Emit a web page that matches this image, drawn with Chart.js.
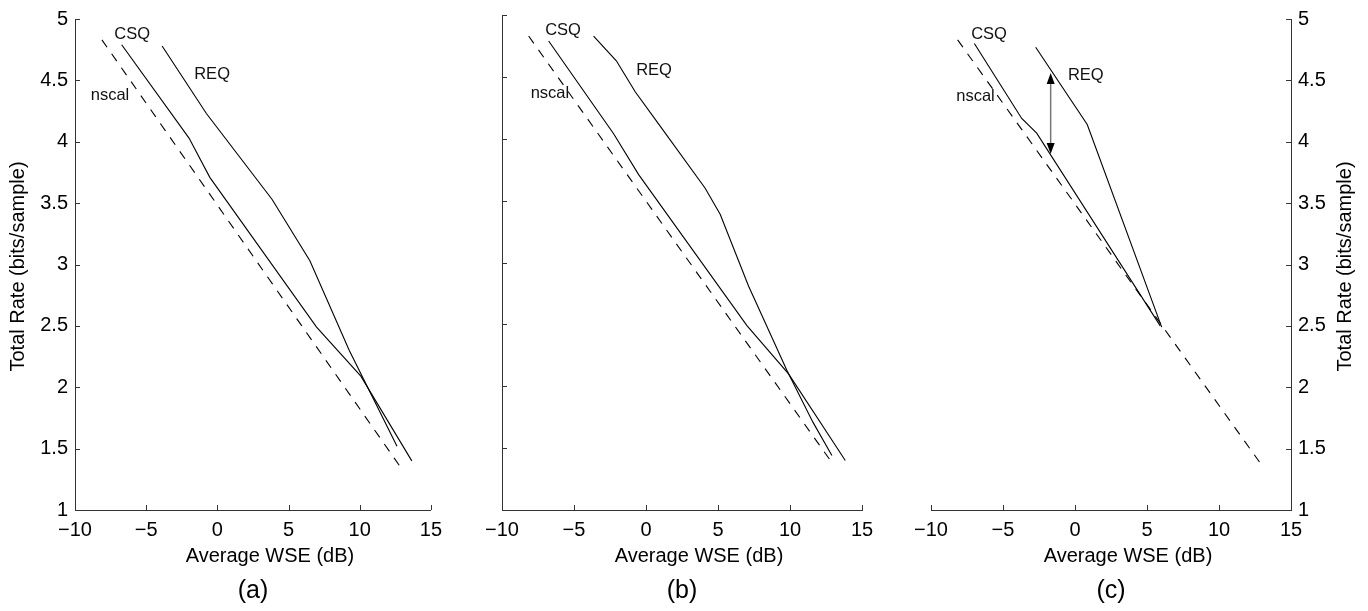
<!DOCTYPE html>
<html><head><meta charset="utf-8">
<script src="https://cdn.jsdelivr.net/npm/chart.js@4/dist/chart.umd.min.js"></script>
<style>
html,body{margin:0;padding:0;background:#fff;width:1368px;height:611px;overflow:hidden;}
canvas{position:absolute;top:0;}
</style></head><body>
<canvas id="ca" width="450" height="611" style="left:0px"></canvas>
<canvas id="cb" width="440" height="611" style="left:450px"></canvas>
<canvas id="cc" width="478" height="611" style="left:890px"></canvas>
<script>
// ---- tick labels ----
const xTickLabels = ['\u221210', '\u22125', '0', '5', '10', '15'];
const yTickLabels = ['1', '1.5', '2', '2.5', '3', '3.5', '4', '4.5', '5'];
const xTitle = 'Average WSE (dB)';
const yTitle = 'Total Rate (bits/sample)';

// ---- panel (a) ----
const nscalA_x = [-8.11, 12.8];
const nscalA_y = [4.83, 1.36];
const csqA_x = [-6.72, -1.99, -0.53, 6.97, 10.08, 13.66];
const csqA_y = [4.79, 4.03, 3.71, 2.49, 2.09, 1.40];
const reqA_x = [-3.88, -0.77, 3.85, 6.50, 9.27, 12.62];
const reqA_y = [4.78, 4.23, 3.53, 3.03, 2.30, 1.52];

// ---- panel (b) ----
const nscalB_x = [-8.15, 12.99];
const nscalB_y = [4.83, 1.37];
const csqB_x = [-6.76, -2.25, -0.51, 7.01, 9.90, 13.84];
const csqB_y = [4.79, 4.04, 3.71, 2.49, 2.10, 1.40];
const reqB_x = [-3.64, -2.06, -0.75, 0.87, 4.11, 5.15, 7.12, 9.78, 11.59, 12.91];
const reqB_y = [4.83, 4.63, 4.38, 4.12, 3.60, 3.39, 2.81, 2.13, 1.71, 1.44];

// ---- panel (c) ----
const nscalC_x = [-8.15, 13.0];
const nscalC_y = [4.83, 1.36];
const csqC_x = [-6.99, -3.70, -2.66, 5.92];
const csqC_y = [4.80, 4.19, 4.07, 2.50];
const reqC_x = [-2.73, 0.85, 6.02];
const reqC_y = [4.77, 4.14, 2.49];
const arrowC_x = -1.69;
const arrowC_y = [4.56, 3.90];

// ---- curve labels (text, x, y) ----
const labelText = ['CSQ', 'REQ', 'nscal'];
const labelsA_x = [-5.98, -0.37, -7.54];
const labelsA_y = [4.875, 4.55, 4.375];
const labelsB_x = [-5.76, 0.56, -6.67];
const labelsB_y = [4.875, 4.55, 4.37];
const labelsC_x = [-5.97, 0.75, -6.91];
const labelsC_y = [4.875, 4.54, 4.37];

const FONT = "'Liberation Sans', Arial, Helvetica, sans-serif";
const AXIS = '#333';

function pts(xs, ys) { return xs.map((x, i) => ({x: x, y: ys[i]})); }

const decor = {
  id: 'decor',
  afterDraw(chart, args, o) {
    const ctx = chart.ctx, xs = chart.scales.x, ys = chart.scales.y;
    const a = chart.chartArea;
    ctx.save();
    // inward tick marks
    ctx.strokeStyle = AXIS; ctx.lineWidth = 1;
    ctx.beginPath();
    xs.ticks.forEach(t => {
      const px = Math.round(xs.getPixelForValue(t.value)) + 0.5;
      ctx.moveTo(px, a.bottom); ctx.lineTo(px, a.bottom - 5);
    });
    ys.ticks.forEach(t => {
      const py = Math.round(ys.getPixelForValue(t.value)) + 0.5;
      if (o.right) { ctx.moveTo(a.right, py); ctx.lineTo(a.right - 5, py); }
      else { ctx.moveTo(a.left, py); ctx.lineTo(a.left + 5, py); }
    });
    ctx.stroke();
    // curve labels
    ctx.fillStyle = '#111';
    ctx.font = '16.5px ' + FONT;
    ctx.textAlign = 'center'; ctx.textBaseline = 'middle';
    labelText.forEach((t, i) => {
      ctx.fillText(t, xs.getPixelForValue(o.lx[i]), ys.getPixelForValue(o.ly[i]));
    });
    // arrow
    if (o.arrow) {
      const ax = xs.getPixelForValue(o.arrow.x);
      const y1 = ys.getPixelForValue(o.arrow.y[0]);
      const y2 = ys.getPixelForValue(o.arrow.y[1]);
      ctx.strokeStyle = '#777'; ctx.lineWidth = 1.5;
      ctx.beginPath(); ctx.moveTo(ax, y1 + 8); ctx.lineTo(ax, y2 - 8); ctx.stroke();
      ctx.fillStyle = '#000';
      ctx.beginPath(); ctx.moveTo(ax, y1); ctx.lineTo(ax - 4, y1 + 11); ctx.lineTo(ax + 4, y1 + 11); ctx.closePath(); ctx.fill();
      ctx.beginPath(); ctx.moveTo(ax, y2); ctx.lineTo(ax - 4, y2 - 11); ctx.lineTo(ax + 4, y2 - 11); ctx.closePath(); ctx.fill();
    }
    // titles
    ctx.fillStyle = '#000';
    ctx.font = '20px ' + FONT;
    ctx.textAlign = 'center'; ctx.textBaseline = 'middle';
    ctx.fillText(xTitle, (a.left + a.right) / 2 + 17, a.bottom + 46);
    ctx.font = '25px ' + FONT;
    ctx.fillText(o.panel, (a.left + a.right) / 2, a.bottom + 81);
    if (o.ytitleX !== undefined) {
      ctx.font = '20px ' + FONT;
      ctx.translate(o.ytitleX, (a.top + a.bottom) / 2 + 2);
      ctx.rotate(-Math.PI / 2);
      ctx.fillText(yTitle, 0, 0);
    }
    ctx.restore();
  }
};

function makeChart(id, d, cfg) {
  new Chart(document.getElementById(id), {
    type: 'scatter',
    data: {
      datasets: [
        {data: pts(d.nx, d.ny), showLine: true, borderColor: '#000', borderWidth: 1.1, borderDash: [9, 8], pointRadius: 0, fill: false},
        {data: pts(d.cx, d.cy), showLine: true, borderColor: '#000', borderWidth: 1.1, pointRadius: 0, fill: false},
        {data: pts(d.rx, d.ry), showLine: true, borderColor: '#000', borderWidth: 1.1, pointRadius: 0, fill: false}
      ]
    },
    options: {
      responsive: false, animation: false, devicePixelRatio: 1,
      layout: {padding: {top: 15, right: cfg.padRight, left: cfg.padLeft, bottom: 0}},
      plugins: {legend: {display: false}, tooltip: {enabled: false},
        decor: {lx: d.lx, ly: d.ly, arrow: d.arrow, panel: cfg.panel, right: cfg.yPos === 'right', ytitleX: cfg.ytitleX}},
      scales: {
        x: {
          type: 'linear', position: 'bottom', min: -10, max: 15,
          ticks: {stepSize: 5, autoSkip: false, maxRotation: 0, padding: 8, color: '#000',
                  font: {family: FONT, size: 20}, callback: (v, i) => xTickLabels[i]},
          grid: {display: false, drawTicks: false},
          border: {display: true, color: AXIS, width: 1},
          afterFit: s => { s.height = 101; }
        },
        y: {
          type: 'linear', position: cfg.yPos, min: 1, max: 5,
          ticks: {stepSize: 0.5, display: cfg.yLabels, padding: 7, color: '#000',
                  font: {family: FONT, size: 20}, callback: (v, i) => yTickLabels[i]},
          grid: {display: false, drawTicks: false},
          border: {display: true, color: AXIS, width: 1},
          afterFit: s => { s.width = cfg.yWidth; }
        }
      }
    },
    plugins: [decor]
  });
}

makeChart('ca',
  {nx: nscalA_x, ny: nscalA_y, cx: csqA_x, cy: csqA_y, rx: reqA_x, ry: reqA_y, lx: labelsA_x, ly: labelsA_y},
  {panel: '(a)', yPos: 'left', yLabels: true, yWidth: 75, padLeft: 0, padRight: 14, ytitleX: 18});
makeChart('cb',
  {nx: nscalB_x, ny: nscalB_y, cx: csqB_x, cy: csqB_y, rx: reqB_x, ry: reqB_y, lx: labelsB_x, ly: labelsB_y},
  {panel: '(b)', yPos: 'left', yLabels: false, yWidth: 52, padLeft: 0, padRight: 28});
makeChart('cc',
  {nx: nscalC_x, ny: nscalC_y, cx: csqC_x, cy: csqC_y, rx: reqC_x, ry: reqC_y, lx: labelsC_x, ly: labelsC_y,
   arrow: {x: arrowC_x, y: arrowC_y}},
  {panel: '(c)', yPos: 'right', yLabels: true, yWidth: 77, padLeft: 41, padRight: 0, ytitleX: 455});
</script>
</body></html>
